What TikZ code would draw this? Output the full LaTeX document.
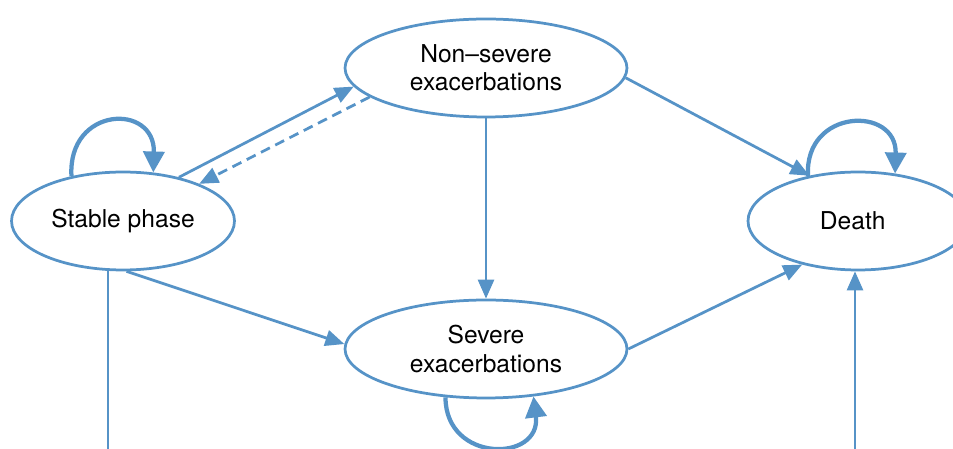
\documentclass[tikz,border=0pt]{standalone}
\usepackage{fontspec}
\setmainfont{TeX Gyre Heros}
\usetikzlibrary{arrows.meta,shapes.geometric}

\definecolor{stateblue}{RGB}{86,147,199}

\tikzstyle{state} = [ellipse, draw=stateblue, line width=0.055cm, inner sep=0pt, minimum height=1.96cm, align=center, font=\fontsize{14}{16}\selectfont]
\tikzstyle{arrow} = [stateblue, line width=0.055cm, -{Triangle[length=0.38cm,width=0.32cm]}]
\tikzstyle{selfloop} = [stateblue, line width=0.085cm, -{Triangle[length=0.42cm,width=0.42cm]}]

\begin{document}
\begin{tikzpicture}[x=0.02cm,y=0.02cm]
\useasboundingbox (0,0) rectangle (953,449);

\node (stable) [state, minimum width=4.46cm] at (123,228) {Stable phase};
\node (nonsevere) [state, minimum width=5.64cm] at (486,381) {Non–severe\\exacerbations};
\node (severe) [state, minimum width=5.64cm] at (486,100) {Severe\\exacerbations};
\node (death) [state, minimum width=4.4cm] at (858,228) {\hspace*{-6pt}Death};

\coordinate (stablefoot) at (108,0);
\coordinate (deathfoot) at (855,0);

\draw [arrow] (stable.38) -- (nonsevere.188);
\draw [arrow, dash pattern=on 0.2cm off 0.12cm] (nonsevere.194) -- (stable.26);
\draw [arrow] (nonsevere.south) -- (severe.north);
\draw [arrow] (nonsevere.-4) -- (death.137);
\draw [arrow] (stable.-86) -- (severe.178);
\draw [arrow] (severe.east) -- (death.218);
\draw [stateblue, line width=0.055cm] (stablefoot) -- (stablefoot |- stable.south);
\draw [arrow] (deathfoot) -- (deathfoot |- death.south);

% self loops
\draw [selfloop] (stable.139) .. controls +(-4,70) and +(2,70) .. (stable.58);
\draw [selfloop] (death.138) .. controls +(-4,68) and +(2,68) .. (death.52);
\draw [selfloop] (severe.230) .. controls +(0,-66) and +(8,-66) .. (severe.315);

\end{tikzpicture}
\end{document}
